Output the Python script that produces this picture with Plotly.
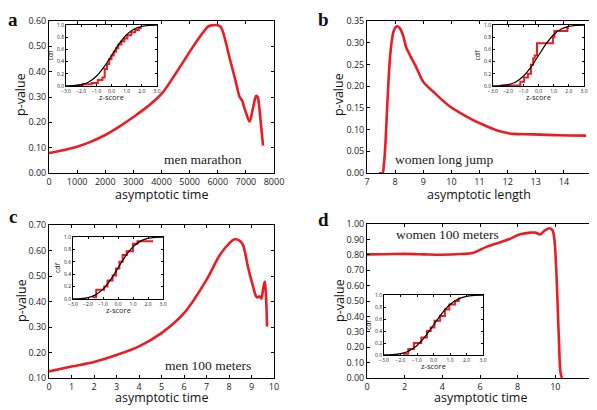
import plotly.graph_objects as go

# page is 597x410 but the html body adds an 8px margin at top-left
OX, OY = 8, 8
W, H = 597 - OX, 410 - OY
RED = "rgb(236,28,36)"

# ---------------- main curves ----------------
a_x = [0, 500, 1000, 1500, 2000, 2500, 3000, 3500, 4000, 4500, 5000, 5250, 5480, 5650, 5800, 6000, 6100, 6190, 6300, 6420, 6550, 6660, 6780, 6870, 6950, 7010, 7130, 7250, 7330, 7370, 7420, 7460, 7530, 7610]
a_y = [0.079, 0.090, 0.104, 0.124, 0.150, 0.183, 0.221, 0.262, 0.312, 0.392, 0.478, 0.520, 0.555, 0.578, 0.583, 0.583, 0.578, 0.555, 0.510, 0.455, 0.400, 0.352, 0.300, 0.285, 0.255, 0.236, 0.203, 0.255, 0.295, 0.305, 0.300, 0.275, 0.200, 0.108]

b_x = [7.42, 7.55, 7.60, 7.65, 7.73, 7.83, 7.94, 8.02, 8.09, 8.18, 8.30, 8.39, 8.53, 8.77, 9.00, 9.36, 9.95, 10.54, 11.13, 11.72, 12.00, 12.20, 12.90, 13.80, 14.79]
b_y = [0.000, 0.000, 0.020, 0.061, 0.168, 0.275, 0.325, 0.336, 0.338, 0.332, 0.313, 0.290, 0.271, 0.241, 0.210, 0.187, 0.153, 0.130, 0.111, 0.096, 0.092, 0.090, 0.089, 0.087, 0.086]

c_x = [0, 1, 2, 3, 4, 5, 6, 7, 7.6, 8.03, 8.25, 8.47, 8.62, 8.84, 9.07, 9.24, 9.36, 9.44, 9.51, 9.59, 9.64, 9.69]
c_y = [0.126, 0.145, 0.163, 0.190, 0.224, 0.276, 0.354, 0.485, 0.583, 0.630, 0.644, 0.639, 0.622, 0.537, 0.459, 0.416, 0.420, 0.412, 0.446, 0.478, 0.430, 0.302]

d_x = [0, 1, 2, 3, 3.89, 5.0, 5.66, 6.37, 7.43, 8.14, 8.67, 8.94, 9.20, 9.47, 9.70, 9.85, 9.95, 10.05, 10.12, 10.20, 10.27, 10.35]
d_y = [0.803, 0.804, 0.806, 0.803, 0.800, 0.805, 0.814, 0.853, 0.896, 0.933, 0.944, 0.944, 0.933, 0.961, 0.972, 0.960, 0.900, 0.700, 0.480, 0.220, 0.040, 0.000]

# ---------------- inset data ----------------
norm_z = [-3.0, -2.5, -2.0, -1.5, -1.0, -0.5, 0.0, 0.5, 1.0, 1.5, 2.0, 2.5, 3.0]
norm_cdf = [0.001, 0.006, 0.023, 0.067, 0.159, 0.309, 0.500, 0.691, 0.841, 0.933, 0.977, 0.994, 0.999]

ia_z = [-2.8, -2.3, -1.9, -1.3, -0.9, -0.6, -0.45, -0.3, -0.15, 0.0, 0.15, 0.3, 0.45, 0.65, 0.85, 1.05, 1.3, 1.55, 1.8]
ia_c = [0.0, 0.01, 0.03, 0.05, 0.10, 0.14, 0.28, 0.36, 0.44, 0.50, 0.56, 0.62, 0.68, 0.73, 0.78, 0.83, 0.88, 0.92, 0.95]
ia_end = 2.0

ib_z = [-2.5, -1.2, -0.95, -0.7, -0.5, -0.35, -0.25, -0.1, 0.95, 1.05, 1.9]
ib_c = [0.01, 0.07, 0.14, 0.20, 0.35, 0.45, 0.50, 0.70, 0.80, 0.90, 0.95]
ib_end = 2.0

ic_z = [-1.7, -1.45, -0.92, -0.7, -0.36, -0.13, 0.09, 0.31, 0.58, 1.0, 1.3]
ic_c = [0.03, 0.15, 0.20, 0.30, 0.38, 0.49, 0.60, 0.71, 0.77, 0.89, 0.93]
ic_end = 2.35

id_z = [-1.87, -1.53, -1.19, -0.74, -0.40, -0.17, 0.06, 0.40, 0.69, 0.96, 1.30, 1.53]
id_c = [0.02, 0.10, 0.20, 0.29, 0.40, 0.46, 0.57, 0.65, 0.76, 0.84, 0.90, 0.94]
id_end = 1.64

# ---------------- layout helpers (page pixel -> paper) ----------------
def PX(p):
    return (p - OX) / W

def PY(p):
    return 1 - (p - OY) / H

def px_dom_x(a, b):
    return [PX(a), PX(b)]

def px_dom_y(top, bot):
    return [PY(bot), PY(top)]

fig = go.Figure()

mains = [
    dict(n=1, x=a_x, y=a_y, dx=(49, 274), dy=(21, 173), xr=[0, 8000], xd=1000, yr=[0, 0.6], yd=0.1),
    dict(n=2, x=b_x, y=b_y, dx=(367, 592), dy=(21, 173), xr=[7, 15], xd=1, yr=[0, 0.35], yd=0.05),
    dict(n=3, x=c_x, y=c_y, dx=(49, 274), dy=(225, 378), xr=[0, 10], xd=1, yr=[0.1, 0.7], yd=0.1),
    dict(n=4, x=d_x, y=d_y, dx=(367, 593), dy=(224, 378), xr=[0, 12], xd=2, yr=[0, 1.0], yd=0.1),
]
insets = [
    dict(n=5, z=ia_z, c=ia_c, e=ia_end, dx=(66, 157), dy=(25, 86)),
    dict(n=6, z=ib_z, c=ib_c, e=ib_end, dx=(493, 584), dy=(25, 86)),
    dict(n=7, z=ic_z, c=ic_c, e=ic_end, dx=(73, 163), dy=(237, 299)),
    dict(n=8, z=id_z, c=id_c, e=id_end, dx=(384, 483), dy=(295, 355)),
]

layout = dict(
    width=W, height=H, margin=dict(l=0, r=0, t=0, b=0, pad=0), autosize=False,
    paper_bgcolor="white", plot_bgcolor="white", showlegend=False,
    font=dict(family="Open Sans", color="#222"),
)
annotations = []

common = dict(showgrid=False, zeroline=False, showline=True, linecolor="black", linewidth=1,
              mirror="ticks", ticks="inside", tickcolor="black", automargin=False)

for m in mains:
    n = m["n"]
    xa = "xaxis" if n == 1 else f"xaxis{n}"
    ya = "yaxis" if n == 1 else f"yaxis{n}"
    xs = "x" if n == 1 else f"x{n}"
    ys = "y" if n == 1 else f"y{n}"
    fig.add_trace(go.Scatter(x=m["x"], y=m["y"], mode="lines", xaxis=xs, yaxis=ys,
                             line=dict(color=RED, width=2.6, shape="spline", smoothing=1.0)))
    layout[xa] = dict(domain=px_dom_x(*m["dx"]), anchor=ys, range=m["xr"], dtick=m["xd"], tick0=m["xr"][0],
                      ticklen=3, tickfont=dict(size=9, color="#222"), **common)
    layout[ya] = dict(domain=px_dom_y(*m["dy"]), anchor=xs, range=m["yr"], dtick=m["yd"], tick0=m["yr"][0],
                      tickformat=".2f", ticklen=3, tickfont=dict(size=9, color="#222"), **common)

for m in insets:
    n = m["n"]
    xa, ya = f"xaxis{n}", f"yaxis{n}"
    xs, ys = f"x{n}", f"y{n}"
    fig.add_trace(go.Scatter(x=m["z"] + [m["e"]], y=m["c"] + [m["c"][-1]], mode="lines", xaxis=xs, yaxis=ys,
                             line=dict(color=RED, width=2, shape="hv")))
    fig.add_trace(go.Scatter(x=norm_z, y=norm_cdf, mode="lines", xaxis=xs, yaxis=ys,
                             line=dict(color="black", width=1.2, shape="spline")))
    layout[xa] = dict(domain=px_dom_x(*m["dx"]), anchor=ys, range=[-3, 3], dtick=1, tick0=-3, tickformat=".1f",
                      ticklen=2, tickfont=dict(size=5, color="#222"), **common)
    layout[ya] = dict(domain=px_dom_y(*m["dy"]), anchor=xs, range=[0, 1], dtick=0.2, tick0=0, tickformat=".1f",
                      ticklen=2, tickfont=dict(size=5, color="#222"), **common)
    cx = (m["dx"][0] + m["dx"][1]) / 2
    annotations.append(dict(text="z-score", x=PX(cx), y=PY(m["dy"][1] + 11), xref="paper", yref="paper",
                            showarrow=False, font=dict(size=7.5, color="#222"), xanchor="center", yanchor="middle",
                            borderpad=0))
    cy = (m["dy"][0] + m["dy"][1]) / 2
    annotations.append(dict(text="cdf", x=PX(m["dx"][0] - 16), y=PY(cy), xref="paper", yref="paper",
                            showarrow=False, textangle=-90, font=dict(size=7, color="#222"),
                            xanchor="center", yanchor="middle", borderpad=0))

def ann(text, x, y, size, angle=0, family="Open Sans", bold=False, yanchor="middle"):
    t = f"<b>{text}</b>" if bold else text
    annotations.append(dict(text=t, x=PX(x), y=PY(y), xref="paper", yref="paper", showarrow=False,
                            textangle=angle, font=dict(size=size, family=family, color="#111"),
                            xanchor="center", yanchor=yanchor, borderpad=0))

ann("asymptotic time", 161.5, 194, 12.5)
ann("asymptotic length", 479.5, 194, 12.5)
ann("asymptotic time", 161.5, 397, 12.5)
ann("asymptotic time", 480, 397, 12.5)
ann("p-value", 21, 95, 12.5, -90)
ann("p-value", 339, 95, 12.5, -90)
ann("p-value", 21, 301, 12.5, -90)
ann("p-value", 339, 301, 12.5, -90)

ann("a", 13, 8, 19, family="Liberation Serif", bold=True, yanchor="top")
ann("b", 323.5, 8, 19, family="Liberation Serif", bold=True, yanchor="top")
ann("c", 13, 216, 19, family="Liberation Serif", bold=True)
ann("d", 323.5, 219, 19, family="Liberation Serif", bold=True)

lab_font = dict(size=13.5, family="Liberation Serif", color="#222")
annotations.append(dict(text="men marathon", x=5490, y=0.055, xref="x", yref="y", showarrow=False, font=lab_font))
annotations.append(dict(text="women long jump", x=9.73, y=0.03, xref="x2", yref="y2", showarrow=False, font=lab_font))
annotations.append(dict(text="men 100 meters", x=7.07, y=0.151, xref="x3", yref="y3", showarrow=False, font=lab_font))
annotations.append(dict(text="women 100 meters", x=4.25, y=0.93, xref="x4", yref="y4", showarrow=False, font=lab_font))

layout["annotations"] = annotations
fig.update_layout(**layout)
fig.write_html("out.html")
